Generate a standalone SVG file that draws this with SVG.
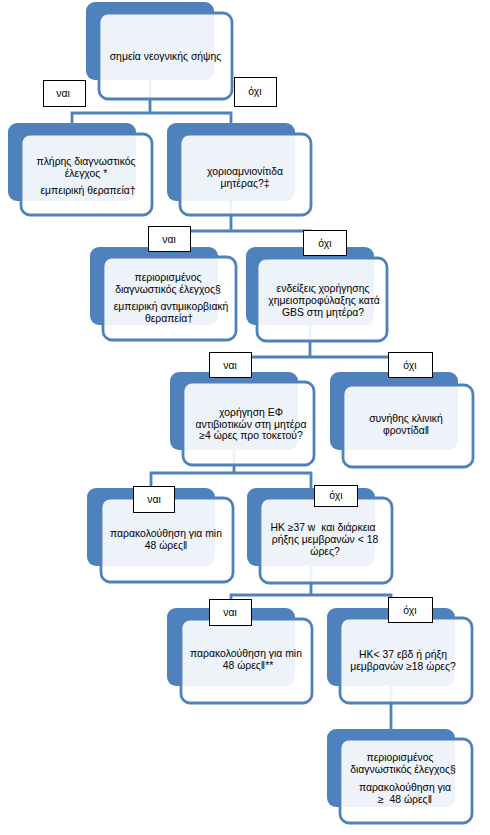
<svg xmlns="http://www.w3.org/2000/svg" width="490" height="835" viewBox="0 0 490 835">
<style>
.bk{fill:#4f81bd;}
.fr{fill:#ffffff;fill-opacity:0.9;stroke:#4f81bd;stroke-width:2.8;}
.cn{fill:none;stroke:#4f81bd;stroke-width:2.8;}
.t{font-family:"Liberation Sans",Arial,sans-serif;font-size:10.4px;fill:#000;text-anchor:middle;white-space:pre;}
.lb{fill:#fff;stroke:#000;stroke-width:1;}
.lt{font-family:"Liberation Sans",Arial,sans-serif;font-size:10.4px;fill:#000;text-anchor:middle;}
</style>
<rect width="490" height="835" fill="#fff"/>
<g id="connectors">
<path class="cn" d="M150,80 V113 M72,123 V113 H231 V123"/>
<path class="cn" d="M231,201 V231 M154,247 V231 H310 V247"/>
<path class="cn" d="M310,325 V357 M234,372 V357 H394 V372"/>
<path class="cn" d="M234,450 V473 M151,488 V473 H311 V488"/>
<path class="cn" d="M311,566 V595 M231,608 V595 H391 V608"/>
<path class="cn" d="M391,686 V729"/>
</g>
<g id="n1">
<rect class="bk" x="86" y="2" width="128" height="78" rx="9"/>
<rect class="fr" x="99" y="13" width="133" height="86" rx="9"/>
<text class="t" x="165.5" y="60">σημεία νεογνικής σήψης</text>
</g>
<g id="n2">
<rect class="bk" x="8" y="123" width="128" height="78" rx="9"/>
<rect class="fr" x="21" y="134" width="131" height="81" rx="9"/>
<text class="t" x="86" y="165">πλήρης διαγνωστικός</text>
<text class="t" x="86" y="176.5">έλεγχος *</text>
<text class="t" x="88" y="194">εμπειρική θεραπεία†</text>
</g>
<g id="n3">
<rect class="bk" x="167" y="123" width="128" height="78" rx="9"/>
<rect class="fr" x="180" y="134" width="131" height="81" rx="9"/>
<text class="t" x="245" y="175">χοριοαμνιονίτιδα</text>
<text class="t" x="245" y="187">μητέρας?‡</text>
</g>
<g id="n4">
<rect class="bk" x="90" y="247" width="128" height="78" rx="9"/>
<rect class="fr" x="103" y="257" width="133" height="83" rx="9"/>
<text class="t" x="168" y="281">περιορισμένος</text>
<text class="t" x="168" y="292.5">διαγνωστικός έλεγχος§</text>
<text class="t" x="171" y="310">εμπειρική αντιμικορβιακή</text>
<text class="t" x="169" y="321.5">θεραπεία†</text>
</g>
<g id="n5">
<rect class="bk" x="246" y="247" width="128" height="78" rx="9"/>
<rect class="fr" x="257" y="258" width="130" height="83" rx="9"/>
<text class="t" x="323" y="292">ενδείξεις χορήγησης</text>
<text class="t" x="324" y="304">χημειοπροφύλαξης κατά</text>
<text class="t" x="323" y="316">GBS στη μητέρα?</text>
</g>
<g id="n6">
<rect class="bk" x="170" y="372" width="128" height="78" rx="9"/>
<rect class="fr" x="183" y="382" width="131" height="83" rx="9"/>
<text class="t" x="251" y="416">χορήγηση ΕΦ</text>
<text class="t" x="251" y="427.5">αντιβιοτικών στη μητέρα</text>
<text class="t" x="251" y="439">≥4 ώρες προ τοκετού?</text>
</g>
<g id="n7">
<rect class="bk" x="330" y="372" width="128" height="78" rx="9"/>
<rect class="fr" x="343" y="385" width="130" height="82" rx="9"/>
<text class="t" x="406" y="422">συνήθης κλινική</text>
<text class="t" x="406" y="434">φροντίδα‖</text>
</g>
<g id="n8">
<rect class="bk" x="87" y="488" width="128" height="78" rx="9"/>
<rect class="fr" x="101" y="498" width="132" height="84" rx="9"/>
<text class="t" x="166" y="537">παρακολούθηση για min</text>
<text class="t" x="166" y="549">48 ώρες‖</text>
</g>
<g id="n9">
<rect class="bk" x="247" y="488" width="128" height="78" rx="9"/>
<rect class="fr" x="260" y="498" width="132" height="85" rx="9"/>
<text class="t" x="323" y="531">HK ≥37 w  και διάρκεια</text>
<text class="t" x="325" y="543">ρήξης μεμβρανών &lt; 18</text>
<text class="t" x="325" y="555">ώρες?</text>
</g>
<g id="n10">
<rect class="bk" x="167" y="608" width="128" height="78" rx="9"/>
<rect class="fr" x="181" y="619" width="131" height="84" rx="9"/>
<text class="t" x="246" y="657">παρακολούθηση για min</text>
<text class="t" x="248" y="669">48 ώρες‖**</text>
</g>
<g id="n11">
<rect class="bk" x="327" y="608" width="128" height="78" rx="9"/>
<rect class="fr" x="340" y="618" width="132" height="85" rx="9"/>
<text class="t" x="403" y="657.5">HK&lt; 37 εβδ ή ρήξη</text>
<text class="t" x="403" y="669.5">μεμβρανών ≥18 ώρες?</text>
</g>
<g id="n12">
<rect class="bk" x="327" y="729" width="128" height="78" rx="9"/>
<rect class="fr" x="340" y="739" width="132" height="84" rx="9"/>
<text class="t" x="400" y="761">περιορισμένος</text>
<text class="t" x="403" y="773">διαγνωστικός έλεγχος§</text>
<text class="t" x="405" y="791">παρακολούθηση για</text>
<text class="t" x="405" y="803">≥  48 ώρες‖</text>
</g>
<g id="edge-labels">
<rect class="lb" x="43.5" y="80.5" width="42" height="26"/><text class="lt" x="63" y="97">ναι</text>
<rect class="lb" x="234.5" y="77.5" width="42" height="29"/><text class="lt" x="255" y="95">όχι</text>
<rect class="lb" x="148.5" y="226.5" width="42" height="25"/><text class="lt" x="169" y="243">ναι</text>
<rect class="lb" x="303.5" y="230.5" width="43" height="25"/><text class="lt" x="325" y="247">όχι</text>
<rect class="lb" x="209.5" y="352.5" width="42" height="25"/><text class="lt" x="230" y="369">ναι</text>
<rect class="lb" x="388.5" y="352.5" width="44" height="25"/><text class="lt" x="410" y="369">όχι</text>
<rect class="lb" x="133.5" y="486.5" width="41" height="26"/><text class="lt" x="154" y="503">ναι</text>
<rect class="lb" x="314.5" y="485.5" width="43" height="21"/><text class="lt" x="336" y="499">όχι</text>
<rect class="lb" x="209.5" y="599.5" width="42" height="26"/><text class="lt" x="230" y="616">ναι</text>
<rect class="lb" x="388.5" y="597.5" width="44" height="25"/><text class="lt" x="410" y="614">όχι</text>
</g>
</svg>
